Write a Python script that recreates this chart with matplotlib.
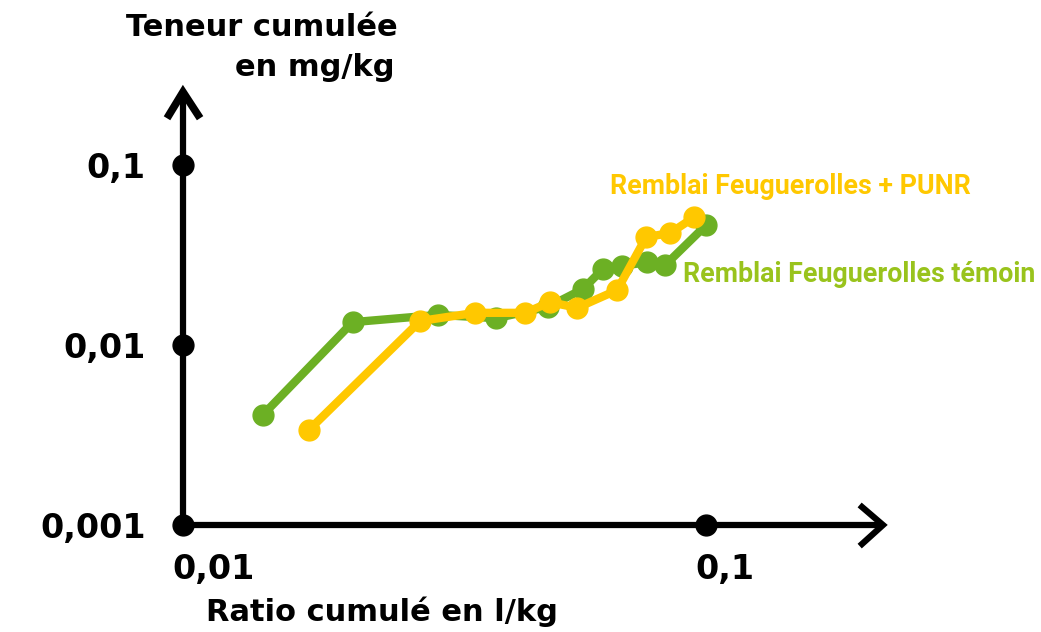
import matplotlib
matplotlib.use("Agg")
import matplotlib.pyplot as plt
from matplotlib.transforms import ScaledTranslation

# Data
temoin_x = [0.0142, 0.0211, 0.0307, 0.0397, 0.0499, 0.0582, 0.0635, 0.0691, 0.0771, 0.0835, 0.100]
temoin_y = [0.00408, 0.0134, 0.0147, 0.0141, 0.0163, 0.0205, 0.0265, 0.0275, 0.0289, 0.0278, 0.0464]
punr_x = [0.0174, 0.0284, 0.0362, 0.0451, 0.0503, 0.0567, 0.0676, 0.0768, 0.0854, 0.0949]
punr_y = [0.00337, 0.0136, 0.0151, 0.0151, 0.0173, 0.0161, 0.0202, 0.0398, 0.0419, 0.0514]
x_ticks = [0.01, 0.1]
x_ticklabels = ["0,01", "0,1"]
y_ticks = [0.001, 0.01, 0.1]
y_ticklabels = ["0,001", "0,01", "0,1"]
label_punr = "Remblai Feuguerolles + PUNR"
label_temoin = "Remblai Feuguerolles témoin"

GREEN = "#6cb024"
GREEN_TXT = "#99c31c"
YELLOW = "#ffc800"

W, H = 1041, 632
fig = plt.figure(figsize=(W / 100, H / 100), dpi=100)
ax = fig.add_axes([183 / W, (H - 525) / H, (883 - 183) / W, (525 - 92) / H])
ax.set_xscale("log")
ax.set_yscale("log")
ax.set_xlim(0.01, 0.2178)
ax.set_ylim(0.001, 0.2547)

for s in ["top", "right"]:
    ax.spines[s].set_visible(False)
for s in ["left", "bottom"]:
    ax.spines[s].set_linewidth(4.5)
    ax.spines[s].set_color("black")
    ax.spines[s].set_capstyle("butt")

ax.plot(temoin_x, temoin_y, "-o", color=GREEN, lw=6, ms=15, zorder=3, clip_on=False)
ax.plot(punr_x, punr_y, "-o", color=YELLOW, lw=6, ms=15, zorder=4, clip_on=False)

# tick dots
ax.plot([x_ticks[0]] * len(y_ticks), y_ticks, "o", color="black", ms=15, clip_on=False, zorder=6)
ax.plot(x_ticks[1:], [y_ticks[0]] * len(x_ticks[1:]), "o", color="black", ms=15, clip_on=False, zorder=6)

tickfont = dict(family="DejaVu Sans", weight="heavy", size=24)
ax.minorticks_off()
ax.set_yticks(y_ticks)
ax.set_yticklabels(y_ticklabels, **tickfont)
ax.set_xticks(x_ticks)
ax.set_xticklabels(x_ticklabels, **tickfont)
ax.tick_params(axis="y", length=0, pad=27)
ax.tick_params(axis="x", length=0, pad=20)
for lbl in ax.get_xticklabels():
    lbl.set_horizontalalignment("left")
    lbl.set_transform(lbl.get_transform() + ScaledTranslation(-0.11, 0, fig.dpi_scale_trans))

# arrow heads
tx = fig.dpi_scale_trans + ScaledTranslation(1, 0, ax.transAxes)
ax.plot([-0.21, 0, -0.21], [0.18, 0, -0.19], color="black", lw=4.5,
        solid_joinstyle="miter", transform=tx, clip_on=False, zorder=7)
ty = fig.dpi_scale_trans + ScaledTranslation(0, 1, ax.transAxes)
ax.plot([-0.14, 0.0, 0.15], [-0.23, 0, -0.23], color="black", lw=5.5,
        solid_joinstyle="miter", transform=ty, clip_on=False, zorder=7)

titlefont = dict(family="DejaVu Sans", weight="heavy", size=22, color="black")
fig.text(262 / W, 1 - 27 / H, "Teneur cumulée", ha="center", va="center", **titlefont)
fig.text(315 / W, 1 - 68 / H, "en mg/kg", ha="center", va="center", **titlefont)
fig.text(382 / W, 1 - 612 / H, "Ratio cumulé en l/kg", ha="center", va="center", **titlefont)

lfont = dict(family="Roboto", weight="bold", size=19.3)
fig.text(610 / W, 1 - 187 / H, label_punr, ha="left", va="center", color=YELLOW, **lfont)
fig.text(1035 / W, 1 - 275 / H, label_temoin, ha="right", va="center", color=GREEN_TXT, **lfont)

fig.savefig("out.png", dpi=100)
